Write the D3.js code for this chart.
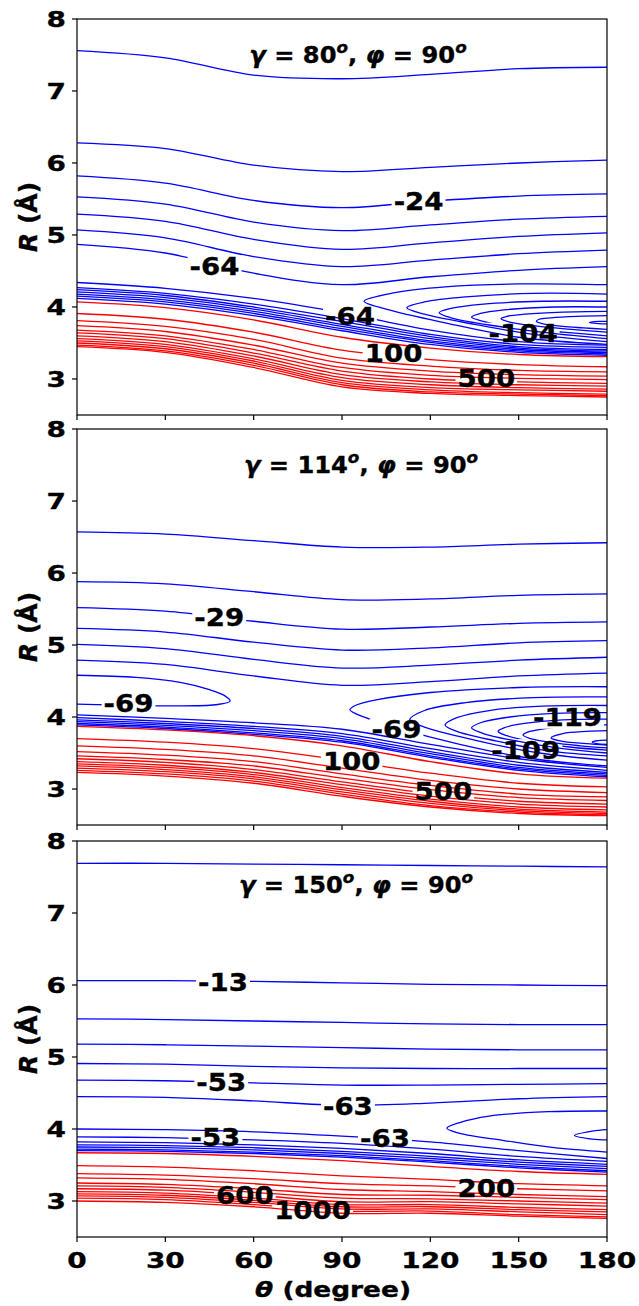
<!DOCTYPE html>
<html>
<head>
<meta charset="utf-8">
<script src="https://cdn.jsdelivr.net/npm/d3@7"></script>
<style>
  body { margin: 0; background: #fff; }
  svg text { font-family: "DejaVu Sans", sans-serif; font-weight: bold; fill: #000; stroke: #000; stroke-width: 0.35px; }
</style>
</head>
<body>
<div id="chart"></div>
<script>
// theta positions at which every open contour is sampled (degree)
const thetaGrid = [0, 30, 60, 90, 120, 150, 180];
const thetaTicks = [0, 30, 60, 90, 120, 150, 180];
const rTicks = [3, 4, 5, 6, 7, 8];
const gammaValues = ["80", "114", "150"];
const phiValues = ["90", "90", "90"];

// ---- panel 1 (gamma = 80) : R at each thetaGrid point
const p1Blue = [
  [7.56, 7.46, 7.22, 7.17, 7.23, 7.31, 7.33],
  [6.28, 6.20, 5.97, 5.88, 5.94, 6.00, 6.04],
  [5.82, 5.72, 5.48, 5.38, 5.47, 5.54, 5.57],
  [5.53, 5.43, 5.18, 5.06, 5.14, 5.22, 5.26],
  [5.29, 5.19, 4.94, 4.80, 4.89, 4.98, 5.03],
  [5.07, 4.96, 4.70, 4.56, 4.65, 4.74, 4.79],
  [4.87, 4.75, 4.47, 4.31, 4.42, 4.51, 4.56]
];
const p1Lower = [
  [4.34, 4.26, 4.12, 3.92, 3.68, 3.52, 3.47],
  [4.27, 4.19, 4.04, 3.84, 3.62, 3.48, 3.44],
  [4.24, 4.16, 4.00, 3.80, 3.59, 3.45, 3.41],
  [4.21, 4.13, 3.97, 3.76, 3.56, 3.43, 3.39],
  [4.18, 4.10, 3.94, 3.73, 3.53, 3.41, 3.37],
  [4.15, 4.07, 3.91, 3.70, 3.51, 3.39, 3.35],
  [4.12, 4.04, 3.88, 3.67, 3.48, 3.37, 3.33]
];
const p1Red = [
  [4.07, 3.99, 3.82, 3.58, 3.43, 3.34, 3.31],
  [3.91, 3.83, 3.65, 3.40, 3.27, 3.20, 3.17],
  [3.81, 3.73, 3.55, 3.29, 3.18, 3.12, 3.10],
  [3.74, 3.66, 3.47, 3.22, 3.11, 3.06, 3.04],
  [3.68, 3.60, 3.41, 3.16, 3.05, 3.01, 2.99],
  [3.64, 3.56, 3.36, 3.11, 3.00, 2.96, 2.94],
  [3.60, 3.52, 3.32, 3.06, 2.96, 2.92, 2.90],
  [3.56, 3.48, 3.28, 3.02, 2.92, 2.88, 2.86],
  [3.53, 3.45, 3.25, 2.98, 2.88, 2.85, 2.83],
  [3.50, 3.42, 3.22, 2.95, 2.85, 2.81, 2.79],
  [3.47, 3.39, 3.19, 2.92, 2.82, 2.79, 2.77],
  [3.45, 3.37, 3.16, 2.89, 2.80, 2.77, 2.75]
];
// closed contours of the well: [theta, R] from right edge (upper) round the tip to right edge (lower)
const p1Loops = [
  [[180, 4.31], [150, 4.32], [125, 4.28], [108, 4.20], [97.5, 4.08], [105, 3.97], [125, 3.78], [150, 3.58], [180, 3.48]],
  [[180, 4.18], [155, 4.19], [132, 4.14], [118, 4.07], [112, 3.99], [118, 3.90], [135, 3.76], [155, 3.62], [180, 3.52]],
  [[180, 4.08], [158, 4.08], [138, 4.04], [127, 3.98], [123, 3.92], [127, 3.85], [140, 3.75], [160, 3.64], [180, 3.56]],
  [[180, 4.00], [162, 4.00], [145, 3.96], [137, 3.91], [134, 3.86], [138, 3.80], [150, 3.71], [165, 3.65], [180, 3.60]],
  [[180, 3.94], [165, 3.93], [152, 3.90], [146, 3.87], [144, 3.84], [147, 3.79], [157, 3.73], [168, 3.69], [180, 3.65]],
  [[180, 3.88], [170, 3.87], [161, 3.85], [157, 3.83], [156, 3.80], [158, 3.77], [165, 3.73], [172, 3.71], [180, 3.69]],
  [[180, 3.80], [177, 3.80], [174, 3.785], [177, 3.77], [180, 3.765]]
];
const p1Labels = [
  { text: "-24", theta: 116, r: 5.47, set: "blue", i: 2 },
  { text: "-64", theta: 46.7, r: 4.57, set: "blue", i: 6 },
  { text: "-64", theta: 92.7, r: 3.87, set: "lower", i: 0 },
  { text: "-104", theta: 151.5, r: 3.63, set: "loops", i: 3 },
  { text: "100", theta: 107.5, r: 3.36, set: "red", i: 1 },
  { text: "500", theta: 139, r: 3.01, set: "red", i: 5 }
];

// ---- panel 2 (gamma = 114)
const p2Blue = [
  [6.57, 6.54, 6.45, 6.36, 6.36, 6.40, 6.42],
  [5.88, 5.85, 5.74, 5.63, 5.64, 5.69, 5.71],
  [5.52, 5.47, 5.33, 5.22, 5.25, 5.30, 5.32],
  [5.23, 5.18, 5.04, 4.93, 4.96, 5.03, 5.06],
  [5.01, 4.95, 4.80, 4.68, 4.72, 4.79, 4.83],
  [4.79, 4.73, 4.57, 4.44, 4.49, 4.57, 4.61]
];
const p2Lower = [
  [4.03, 3.98, 3.92, 3.83, 3.62, 3.42, 3.30],
  [3.99, 3.94, 3.87, 3.77, 3.56, 3.37, 3.26],
  [3.96, 3.91, 3.84, 3.73, 3.52, 3.33, 3.23],
  [3.935, 3.885, 3.81, 3.70, 3.49, 3.30, 3.21],
  [3.91, 3.86, 3.78, 3.67, 3.46, 3.28, 3.19],
  [3.89, 3.84, 3.76, 3.65, 3.44, 3.26, 3.17]
];
const p2Red = [
  [3.87, 3.82, 3.74, 3.60, 3.38, 3.21, 3.15],
  [3.70, 3.65, 3.56, 3.40, 3.22, 3.08, 3.03],
  [3.60, 3.55, 3.46, 3.29, 3.12, 3.00, 2.95],
  [3.52, 3.47, 3.38, 3.21, 3.05, 2.93, 2.89],
  [3.46, 3.41, 3.32, 3.15, 2.99, 2.88, 2.84],
  [3.42, 3.37, 3.27, 3.10, 2.94, 2.83, 2.79],
  [3.38, 3.33, 3.23, 3.06, 2.90, 2.79, 2.75],
  [3.35, 3.30, 3.20, 3.02, 2.86, 2.75, 2.71],
  [3.32, 3.27, 3.17, 2.99, 2.83, 2.72, 2.68],
  [3.29, 3.24, 3.14, 2.96, 2.80, 2.70, 2.66],
  [3.26, 3.21, 3.11, 2.93, 2.77, 2.68, 2.64],
  [3.23, 3.18, 3.08, 2.90, 2.75, 2.66, 2.63]
];
const p2Loops = [
  [[0, 4.58], [20, 4.55], [35, 4.48], [45, 4.38], [50, 4.30], [52, 4.22], [47, 4.17], [30, 4.155], [10, 4.17], [0, 4.18]],
  [[180, 4.42], [150, 4.41], [120, 4.34], [102, 4.24], [94, 4.15], [92.7, 4.10], [95, 4.04], [108, 3.86], [130, 3.62], [155, 3.42], [180, 3.32]],
  [[180, 4.28], [155, 4.27], [132, 4.20], [118, 4.09], [113, 3.96], [118, 3.86], [135, 3.68], [157, 3.50], [180, 3.40]],
  [[180, 4.16], [158, 4.15], [140, 4.09], [129, 3.99], [125, 3.89], [129, 3.80], [142, 3.67], [160, 3.53], [180, 3.46]],
  [[180, 4.06], [162, 4.05], [147, 4.00], [137, 3.92], [134, 3.85], [138, 3.77], [150, 3.66], [165, 3.56], [180, 3.50]],
  [[180, 3.97], [165, 3.96], [152, 3.91], [145, 3.85], [143, 3.80], [146, 3.74], [156, 3.65], [168, 3.58], [180, 3.54]],
  [[180, 3.89], [170, 3.88], [159, 3.84], [153, 3.79], [151.5, 3.75], [154, 3.70], [162, 3.64], [171, 3.60], [180, 3.57]],
  [[180, 3.81], [173, 3.80], [165, 3.77], [161, 3.71], [165, 3.66], [173, 3.63], [180, 3.61]],
  [[180, 3.68], [176.5, 3.67], [175, 3.65], [176.5, 3.63], [180, 3.62]]
];
const p2Labels = [
  { text: "-29", theta: 48.3, r: 5.38, set: "blue", i: 2 },
  { text: "-69", theta: 17.5, r: 4.19, set: "loops", i: 0 },
  { text: "-69", theta: 108.5, r: 3.83, set: "loops", i: 1 },
  { text: "-109", theta: 152.4, r: 3.54, set: "loops", i: 5 },
  { text: "-119", theta: 166.6, r: 3.99, set: "loops", i: 6 },
  { text: "100", theta: 93.3, r: 3.39, set: "red", i: 1 },
  { text: "500", theta: 124.4, r: 2.97, set: "red", i: 5 }
];

// ---- panel 3 (gamma = 150)
const p3Blue = [
  [7.69, 7.69, 7.68, 7.67, 7.66, 7.65, 7.64],
  [6.06, 6.06, 6.05, 6.03, 6.01, 6.00, 5.99],
  [5.53, 5.52, 5.50, 5.48, 5.46, 5.45, 5.45],
  [5.18, 5.17, 5.15, 5.13, 5.11, 5.10, 5.10],
  [4.91, 4.90, 4.87, 4.85, 4.84, 4.84, 4.84],
  [4.68, 4.67, 4.64, 4.61, 4.61, 4.62, 4.63],
  [4.45, 4.44, 4.39, 4.33, 4.36, 4.42, 4.45]
];
const p3Lower = [
  [4.00, 3.99, 3.96, 3.90, 3.82, 3.70, 3.59],
  [3.89, 3.88, 3.85, 3.80, 3.72, 3.62, 3.55],
  [3.82, 3.81, 3.78, 3.73, 3.66, 3.57, 3.51],
  [3.78, 3.77, 3.74, 3.69, 3.62, 3.54, 3.48],
  [3.75, 3.74, 3.71, 3.66, 3.59, 3.51, 3.45],
  [3.72, 3.71, 3.68, 3.63, 3.56, 3.48, 3.42],
  [3.70, 3.69, 3.66, 3.61, 3.54, 3.46, 3.40]
];
const p3Red = [
  [3.67, 3.66, 3.62, 3.56, 3.48, 3.41, 3.37],
  [3.49, 3.47, 3.42, 3.35, 3.30, 3.24, 3.21],
  [3.38, 3.36, 3.31, 3.24, 3.21, 3.17, 3.14],
  [3.32, 3.30, 3.24, 3.16, 3.13, 3.09, 3.06],
  [3.25, 3.23, 3.17, 3.09, 3.08, 3.05, 3.02],
  [3.21, 3.19, 3.12, 3.04, 3.03, 3.00, 2.97],
  [3.17, 3.15, 3.08, 2.99, 2.99, 2.96, 2.93],
  [3.13, 3.11, 3.04, 2.95, 2.95, 2.91, 2.88],
  [3.10, 3.08, 3.01, 2.92, 2.92, 2.88, 2.85],
  [3.07, 3.05, 2.98, 2.89, 2.89, 2.85, 2.81],
  [3.04, 3.02, 2.95, 2.86, 2.86, 2.81, 2.78],
  [3.00, 2.98, 2.92, 2.83, 2.83, 2.79, 2.76]
];
const p3Loops = [
  [[180, 4.25], [160, 4.24], [140, 4.18], [130, 4.09], [125.6, 4.01], [130, 3.94], [145, 3.84], [162, 3.74], [180, 3.68]],
  [[180, 3.99], [175, 3.97], [169, 3.91], [175, 3.86], [180, 3.85]]
];
const p3Labels = [
  { text: "-13", theta: 49.6, r: 6.03, set: "blue", i: 1 },
  { text: "-53", theta: 49, r: 4.65, set: "blue", i: 5 },
  { text: "-53", theta: 47, r: 3.89, set: "lower", i: 1 },
  { text: "-63", theta: 92, r: 4.32, set: "blue", i: 6 },
  { text: "-63", theta: 104.6, r: 3.87, set: "lower", i: 0 },
  { text: "600", theta: 57, r: 3.08, set: "red", i: 6 },
  { text: "1000", theta: 80, r: 2.87, set: "red", i: 10 },
  { text: "200", theta: 139, r: 3.18, set: "red", i: 2 }
];

const panels = [
  { blue: p1Blue, lower: p1Lower, red: p1Red, loops: p1Loops, labels: p1Labels },
  { blue: p2Blue, lower: p2Lower, red: p2Red, loops: p2Loops, labels: p2Labels },
  { blue: p3Blue, lower: p3Lower, red: p3Red, loops: p3Loops, labels: p3Labels }
];

const width = 639, height = 1306;
const left = 77, right = 607;
const panelTops = [19, 429, 841];
const panelH = 396;
const titleDy = [44, 44, 52];
const titleX = [358, 361, 356];

const svg = d3.select("#chart").append("svg")
  .attr("width", width)
  .attr("height", height);
const defs = svg.append("defs");

const x = d3.scaleLinear().domain([0, 180]).range([left, right]);

// glyphs in the figure are a little wider than the font draws them
function place(sel, px, py, sx, extra) {
  return sel.attr("transform", `translate(${px},${py}) scale(${sx},1)` + (extra || ""));
}

panels.forEach((p, k) => {
  const top = panelTops[k];
  const y = d3.scaleLinear().domain([2.5, 8]).range([top + panelH, top]);
  const g = svg.append("g");

  defs.append("clipPath").attr("id", "clip" + k)
    .append("rect")
    .attr("x", left).attr("y", top)
    .attr("width", right - left).attr("height", panelH);

  const plot = g.append("g").attr("clip-path", `url(#clip${k})`);
  const openLine = d3.line()
    .x((d, i) => x(thetaGrid[i]))
    .y(d => y(d))
    .curve(d3.curveCatmullRom.alpha(0.5));
  const loopLine = d3.line()
    .x(d => x(d[0]))
    .y(d => y(d[1]))
    .curve(d3.curveCatmullRom.alpha(0.5));

  const paths = {};
  const sets = [["blue", "#0000ff", openLine], ["lower", "#0000ff", openLine],
                ["loops", "#0000ff", loopLine], ["red", "#ff0000", openLine]];
  sets.forEach(([name, color, gen]) => {
    paths[name] = plot.selectAll("path." + name)
      .data(p[name])
      .enter()
      .append("path")
      .attr("class", name)
      .attr("d", gen)
      .attr("fill", "none")
      .attr("stroke", color)
      .attr("stroke-width", 1.3);
  });

  // inline contour labels: the labelled line is cut under the text
  const labelG = g.append("g");
  p.labels.forEach((lab, j) => {
    const px = x(lab.theta), py = y(lab.r);
    const t = labelG.append("text")
      .attr("text-anchor", "middle")
      .attr("dy", "0.36em")
      .attr("font-size", 24)
      .text(lab.text);
    place(t, px, py, 1.15);
    const w = t.node().getComputedTextLength() * 1.15;
    const mid = `mask${k}-${j}`;
    const m = defs.append("mask").attr("id", mid)
      .attr("maskUnits", "userSpaceOnUse")
      .attr("x", 0).attr("y", 0).attr("width", width).attr("height", height);
    m.append("rect").attr("width", width).attr("height", height).attr("fill", "#fff");
    m.append("rect")
      .attr("x", px - w / 2 - 2).attr("y", py - 11)
      .attr("width", w + 4).attr("height", 22)
      .attr("fill", "#000");
    paths[lab.set].filter((d, i) => i === lab.i).attr("mask", `url(#${mid})`);
  });

  // frame
  g.append("rect")
    .attr("x", left).attr("y", top)
    .attr("width", right - left).attr("height", panelH)
    .attr("fill", "none").attr("stroke", "#000").attr("stroke-width", 1.2);

  // y axis
  const yAxis = g.append("g");
  yAxis.selectAll("line").data(rTicks).enter().append("line")
    .attr("x1", left - 5).attr("x2", left)
    .attr("y1", d => y(d)).attr("y2", d => y(d))
    .attr("stroke", "#000").attr("stroke-width", 1.2);
  yAxis.selectAll("text").data(rTicks).enter().append("text")
    .attr("text-anchor", "end")
    .attr("dy", "0.36em")
    .attr("font-size", 22)
    .text(d => d)
    .each(function (d) { place(d3.select(this), 66, y(d), 1.27); });

  // x ticks
  const xAxis = g.append("g");
  xAxis.selectAll("line").data(thetaTicks).enter().append("line")
    .attr("x1", d => x(d)).attr("x2", d => x(d))
    .attr("y1", top + panelH).attr("y2", top + panelH + 5)
    .attr("stroke", "#000").attr("stroke-width", 1.2);
  if (k === panels.length - 1) {
    xAxis.selectAll("text").data(thetaTicks).enter().append("text")
      .attr("text-anchor", "middle")
      .attr("font-size", 22)
      .text(d => d)
      .each(function (d) { place(d3.select(this), x(d), 1268, 1.27); });
  }

  // y label
  const yl = g.append("text")
    .attr("text-anchor", "middle")
    .attr("font-size", 25);
  yl.append("tspan").attr("font-style", "italic").text("R");
  yl.append("tspan").text(" (Å)");
  place(yl, 37, top + panelH / 2, 1.0, " rotate(-90)");

  // panel title
  const tt = g.append("text").attr("text-anchor", "middle").attr("font-size", 23);
  tt.append("tspan").attr("font-style", "italic").text("γ");
  tt.append("tspan").text(" = " + gammaValues[k]);
  tt.append("tspan").attr("font-style", "italic").attr("font-size", 16).attr("dy", -10).text("o");
  tt.append("tspan").attr("dy", 10).text(", ");
  tt.append("tspan").attr("font-style", "italic").text("φ");
  tt.append("tspan").text(" = " + phiValues[k]);
  tt.append("tspan").attr("font-style", "italic").attr("font-size", 16).attr("dy", -10).text("o");
  place(tt, titleX[k], top + titleDy[k], 1.05);
});

// x label
const xl = svg.append("text").attr("text-anchor", "middle").attr("font-size", 22);
xl.append("tspan").attr("font-style", "italic").text("θ");
xl.append("tspan").text(" (degree)");
place(xl, 333, 1297, 1.2);
</script>
</body>
</html>
